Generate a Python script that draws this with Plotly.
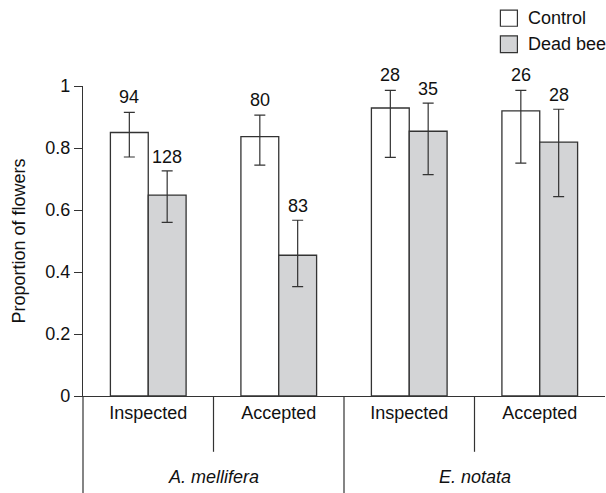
import plotly.graph_objects as go

# ---- data ----
categories = ["Inspected", "Accepted", "Inspected", "Accepted"]
species = ["A. mellifera", "E. notata"]
control_vals = [0.850, 0.837, 0.929, 0.920]
control_hi = [0.915, 0.906, 0.986, 0.986]
control_lo = [0.771, 0.745, 0.770, 0.751]
control_n = ["94", "80", "28", "26"]
dead_vals = [0.648, 0.454, 0.854, 0.819]
dead_hi = [0.726, 0.567, 0.945, 0.925]
dead_lo = [0.560, 0.353, 0.714, 0.643]
dead_n = ["128", "83", "35", "28"]
y_ticks = [0, 0.2, 0.4, 0.6, 0.8, 1.0]
y_ticktext = ["0", "0.2", "0.4", "0.6", "0.8", "1"]

FONT = "Liberation Sans, Arial, sans-serif"
FS = 18
LINE = "#333333"
GRAY = "#d3d4d6"
BARGAP = 0.42

xpos = list(range(len(categories)))

fig = go.Figure()
fig.add_trace(go.Bar(
    x=xpos, y=control_vals, name="Control",
    marker=dict(color="white", line=dict(color=LINE, width=1.3)),
    error_y=dict(type="data", symmetric=False,
                 array=[h - v for h, v in zip(control_hi, control_vals)],
                 arrayminus=[v - l for v, l in zip(control_vals, control_lo)],
                 color=LINE, thickness=1.2, width=5.5),
    showlegend=False,
))
fig.add_trace(go.Bar(
    x=xpos, y=dead_vals, name="Dead bee",
    marker=dict(color=GRAY, line=dict(color=LINE, width=1.3)),
    error_y=dict(type="data", symmetric=False,
                 array=[h - v for h, v in zip(dead_hi, dead_vals)],
                 arrayminus=[v - l for v, l in zip(dead_vals, dead_lo)],
                 color=LINE, thickness=1.2, width=5.5),
    showlegend=False,
))

half = (1 - BARGAP) / 4.0
annotations = []
for i, x in enumerate(xpos):
    annotations.append(dict(x=x - half, y=control_hi[i], xref="x", yref="y",
                            text=control_n[i], showarrow=False, yshift=15,
                            font=dict(family=FONT, size=FS, color="#111")))
    annotations.append(dict(x=x + half, y=dead_hi[i], xref="x", yref="y",
                            text=dead_n[i], showarrow=False, yshift=14,
                            font=dict(family=FONT, size=FS, color="#111")))

# species labels
for j, sp in enumerate(species):
    annotations.append(dict(x=0.25 + 0.5 * j, y=-0.26, xref="paper", yref="paper",
                            text="<i>" + sp + "</i>", showarrow=False,
                            xanchor="center", yanchor="middle",
                            font=dict(family=FONT, size=FS, color="#111")))

# legend texts
annotations.append(dict(x=0.8487, y=1.2187, xref="paper", yref="paper", text="Control",
                        showarrow=False, xanchor="left", yanchor="middle",
                        font=dict(family=FONT, size=FS, color="#111")))
annotations.append(dict(x=0.8487, y=1.1346, xref="paper", yref="paper", text="Dead bee",
                        showarrow=False, xanchor="left", yanchor="middle",
                        font=dict(family=FONT, size=FS, color="#111")))

shapes = [
    # legend boxes
    dict(type="rect", xref="paper", yref="paper", x0=0.7996, x1=0.8322, y0=1.1928, y1=1.2445,
         fillcolor="white", line=dict(color=LINE, width=1.2)),
    dict(type="rect", xref="paper", yref="paper", x0=0.7996, x1=0.8322, y0=1.1078, y1=1.1614,
         fillcolor=GRAY, line=dict(color=LINE, width=1.2)),
    # dividers below axis
    dict(type="line", xref="paper", yref="paper", x0=0, x1=0, y0=0, y1=-0.33,
         line=dict(color=LINE, width=1.2)),
    dict(type="line", xref="paper", yref="paper", x0=0.5, x1=0.5, y0=0, y1=-0.33,
         line=dict(color=LINE, width=1.2)),
    dict(type="line", xref="paper", yref="paper", x0=0.25, x1=0.25, y0=0, y1=-0.18,
         line=dict(color=LINE, width=1.2)),
    dict(type="line", xref="paper", yref="paper", x0=0.75, x1=0.75, y0=0, y1=-0.18,
         line=dict(color=LINE, width=1.2)),
]

fig.update_layout(
    width=606, height=493,
    margin=dict(l=83, r=1, t=86, b=97),
    paper_bgcolor="white", plot_bgcolor="white",
    barmode="group", bargap=BARGAP, bargroupgap=0,
    font=dict(family=FONT, size=FS, color="#111"),
    annotations=annotations, shapes=shapes,
    xaxis=dict(range=[-0.5, 3.5], tickvals=xpos, ticktext=categories,
               showline=True, linecolor=LINE, linewidth=1.2, ticks="",
               showgrid=False, zeroline=False, fixedrange=True,
               tickfont=dict(family=FONT, size=FS, color="#111")),
    yaxis=dict(range=[0, 1], tickvals=y_ticks, ticktext=y_ticktext,
               showline=True, linecolor=LINE, linewidth=1.2, ticks="outside",
               ticklen=8, tickcolor=LINE, tickwidth=1.2,
               showgrid=False, zeroline=False, fixedrange=True,
               tickfont=dict(family=FONT, size=FS, color="#111"),
               title=dict(text="Proportion of flowers", standoff=14,
                          font=dict(family=FONT, size=FS, color="#111"))),
)

fig.write_html("out.html", config={"displayModeBar": False},
               post_script="document.body.style.margin='0px';document.body.style.padding='0px';")
